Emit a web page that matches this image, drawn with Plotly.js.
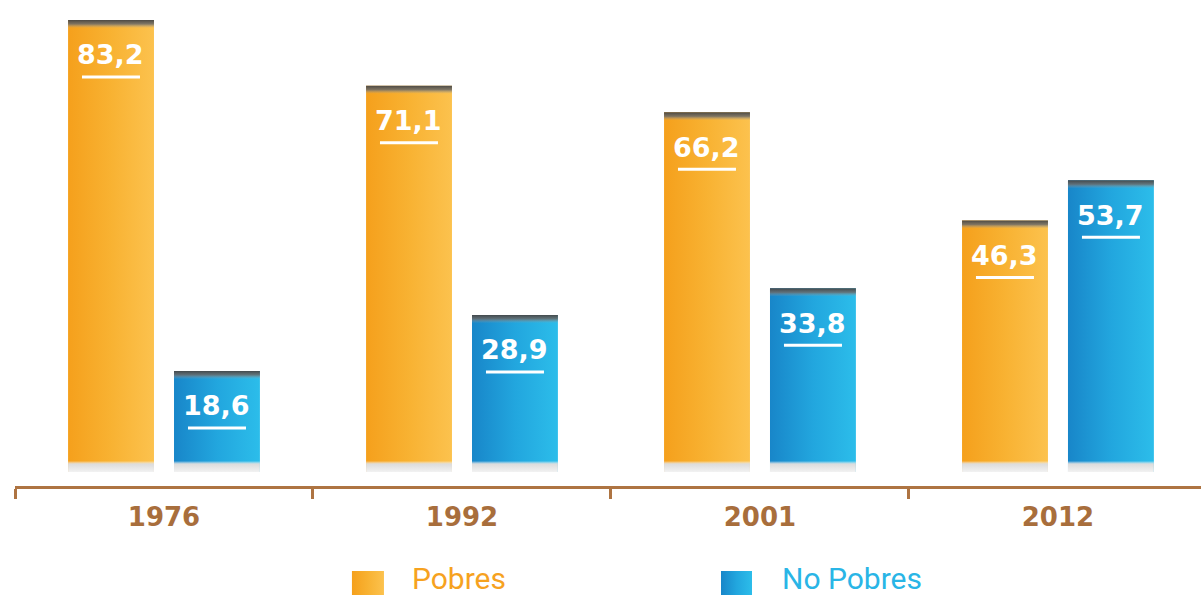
<!DOCTYPE html>
<html><head><meta charset="utf-8">
<script src="https://cdn.plot.ly/plotly-3.0.1.min.js"></script>
<style>html,body{margin:0;padding:0;background:#fff;} #chart{width:1201px;height:598px;}</style>
</head><body><div id="chart"></div>
<script>
// ---- data ----
const years = ['1976', '1992', '2001', '2012'];
const pobres = [83.2, 71.1, 66.2, 46.3];
const noPobres = [18.6, 28.9, 33.8, 53.7];
const seriesNames = ['Pobres', 'No Pobres'];

const fmt = v => v.toFixed(1).replace('.', ',');
const ORANGE = '#F8AE2E', BLUE = '#22A9E0';
const BROWN = '#AE7442';

const traces = [
  {type: 'bar', name: seriesNames[0], x: years, y: pobres, marker: {color: ORANGE, line: {width: 0}}, hoverinfo: 'skip'},
  {type: 'bar', name: seriesNames[1], x: years, y: noPobres, marker: {color: BLUE, line: {width: 0}}, hoverinfo: 'skip'}
];

const OFF = 53;
const annotations = [];
const shapes = [];
[pobres, noPobres].forEach((vals, s) => {
  const dx = s === 0 ? -OFF : OFF;
  vals.forEach((v, i) => {
    annotations.push({x: i, y: v, xref: 'x', yref: 'y', xshift: dx, yshift: -35,
      yanchor: 'middle', xanchor: 'center', text: fmt(v), showarrow: false,
      font: {family: 'DejaVu Sans', size: 27, color: '#ffffff', weight: 'bold'}});
    shapes.push({type: 'line', xref: 'x', yref: 'y', xsizemode: 'pixel', ysizemode: 'pixel',
      xanchor: i, yanchor: v, x0: dx - 29, x1: dx + 29, y0: -57, y1: -57,
      line: {color: '#ffffff', width: 3}});
  });
});

// legend (swatches + labels)
const legendItems = [
  {name: seriesNames[0], color: '#F6A21F', sx0: 0.2841, sx1: 0.3111, tx: 0.3331},
  {name: seriesNames[1], color: '#29B5E6', sx0: 0.5953, sx1: 0.6214, tx: 0.6450}
];
legendItems.forEach(it => {
  shapes.push({type: 'rect', xref: 'paper', yref: 'paper', x0: it.sx0, x1: it.sx1, y0: -0.2243, y1: -0.1749,
    fillcolor: it.color, line: {width: 0}});
  annotations.push({xref: 'paper', yref: 'paper', x: it.tx, y: -0.2300, xanchor: 'left', yanchor: 'bottom',
    text: it.name, showarrow: false, font: {family: 'Roboto', size: 30, color: it.color}});
});

const layout = {
  width: 1201, height: 598,
  margin: {l: 15, r: 0, t: 0, b: 112},
  paper_bgcolor: '#ffffff', plot_bgcolor: '#ffffff',
  showlegend: false,
  barmode: 'group', bargap: 0.289, bargroupgap: 0.189,
  xaxis: {type: 'category', range: [-0.5, 3.48], showline: true, linecolor: BROWN, linewidth: 3,
    ticks: 'outside', tickson: 'boundaries', ticklen: 10, tickwidth: 3, tickcolor: BROWN,
    ticklabelstandoff: 6,
    tickfont: {family: 'DejaVu Sans', size: 26, color: '#A86E3C', weight: 'bold'},
    showgrid: false, zeroline: false, fixedrange: true},
  yaxis: {range: [-2.58, 86.88], visible: false, showgrid: false, zeroline: false, fixedrange: true},
  annotations: annotations,
  shapes: shapes
};

Plotly.newPlot('chart', traces, layout, {staticPlot: true}).then(gd => {
  const svg = gd.querySelector('svg.main-svg');
  const ns = 'http://www.w3.org/2000/svg';
  let defs = svg.querySelector('defs');
  if (!defs) { defs = document.createElementNS(ns, 'defs'); svg.insertBefore(defs, svg.firstChild); }
  function lg(id, x2, y2, stops) {
    const g = document.createElementNS(ns, 'linearGradient');
    g.setAttribute('id', id);
    g.setAttribute('x1', 0); g.setAttribute('y1', 0); g.setAttribute('x2', x2); g.setAttribute('y2', y2);
    stops.forEach(([o, c, a]) => {
      const s = document.createElementNS(ns, 'stop');
      s.setAttribute('offset', o); s.setAttribute('stop-color', c);
      s.setAttribute('stop-opacity', a == null ? 1 : a);
      g.appendChild(s);
    });
    defs.appendChild(g);
  }
  lg('gO', 1, 0, [[0, '#F5A01C'], [0.5, '#F8B232'], [1, '#FCC24E']]);
  lg('gB', 1, 0, [[0, '#1886C9'], [0.5, '#22A6DE'], [1, '#2CBDEA']]);
  gd.querySelectorAll('.barlayer .trace').forEach((t, ti) => {
    t.querySelectorAll('.point path').forEach((p, pi) => {
      p.style.fill = 'url(#' + (ti === 0 ? 'gO' : 'gB') + ')';
      const h = p.getBBox().height;
      const f = px => Math.max(0, Math.min(1, px / h));
      const id = 'v' + ti + '_' + pi;
      lg(id, 0, 1, [[0, '#444444', 0.95], [f(4), '#6a6a6a', 0.85], [f(8), '#a0a0a0', 0], [f(h - 11), '#ffffff', 0],
        [f(h - 8), '#dcdcdc', 1], [1, '#f2f2f2', 1]]);
      const c = p.cloneNode();
      c.style.fill = 'url(#' + id + ')';
      c.style.stroke = 'none';
      p.parentNode.appendChild(c);
    });
  });
  const sp = gd.querySelectorAll('.shapelayer path');
  const n = sp.length;
  if (n >= 2) { sp[n - 2].style.fill = 'url(#gO)'; sp[n - 1].style.fill = 'url(#gB)'; }
});
</script>
</body></html>
